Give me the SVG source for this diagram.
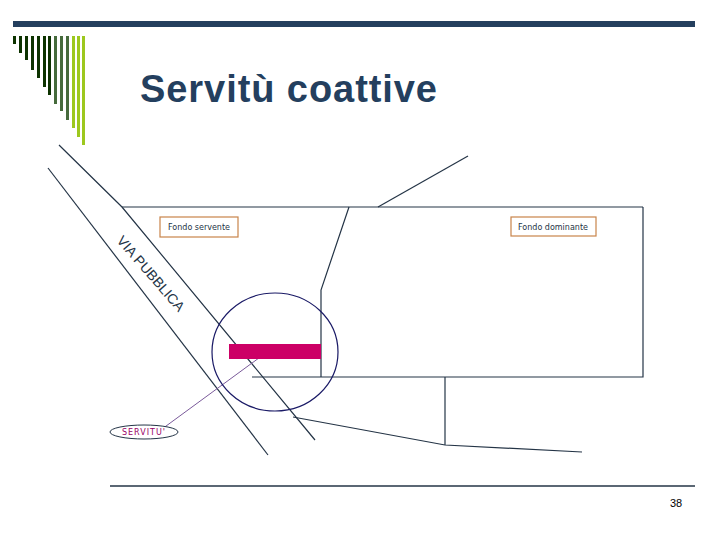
<svg xmlns="http://www.w3.org/2000/svg" width="720" height="540" viewBox="0 0 720 540">
<style>
.l{stroke:#243446;stroke-width:1.2;fill:none}
.lb{fill:#fff;stroke:#c8844a;stroke-width:1.2}
.t{font-family:"DejaVu Sans",sans-serif;font-size:8px;fill:#243446}
</style>
<rect width="720" height="540" fill="#fff"/>
<rect x="13" y="21" width="682" height="6" fill="#243f5e"/>
<g id="bars">
<rect x="13" y="36" width="3" height="8" fill="#0d3300"/>
<rect x="19" y="36" width="3" height="17" fill="#0d3300"/>
<rect x="25" y="36" width="3" height="24" fill="#0d3300"/>
<rect x="31" y="36" width="3" height="34" fill="#0d3300"/>
<rect x="37" y="36" width="3" height="42" fill="#0d3300"/>
<rect x="43" y="36" width="3" height="51" fill="#0d3300"/>
<rect x="48" y="36" width="3" height="59" fill="#0d3300"/>
<rect x="54" y="36" width="3" height="68" fill="#466b3c"/>
<rect x="60" y="36" width="3" height="75" fill="#466b3c"/>
<rect x="66" y="36" width="3" height="84" fill="#466b3c"/>
<rect x="72" y="36" width="3" height="92" fill="#9dc81e"/>
<rect x="77" y="36" width="3" height="101" fill="#9dc81e"/>
<rect x="82" y="36" width="3" height="109" fill="#9dc81e"/>
</g>
<text x="140" y="102" font-family="Liberation Sans,Arial,sans-serif" font-weight="bold" font-size="38" textLength="297" fill="#243f5e">Servitù coattive</text>
<g id="connectors">
<polyline class="l" points="59,145 122,207 315,440"/>
<line class="l" x1="48" y1="168" x2="268" y2="455"/>
<line class="l" x1="122" y1="207" x2="643" y2="207"/>
<polyline class="l" points="643,207 643,377 252,377"/>
<polyline class="l" points="349,207 321,290 321,377"/>
<line class="l" x1="378" y1="207" x2="468" y2="156"/>
<line class="l" x1="445" y1="377" x2="445" y2="445"/>
<polyline class="l" points="293,417 445,445 582,452"/>
<line x1="263" y1="355" x2="162" y2="429" stroke="#7a5a9a" stroke-width="1"/>
</g>
<g id="servitu-area">
<ellipse cx="275" cy="352" rx="63" ry="59" fill="none" stroke="#1a1a66" stroke-width="1.2"/>
<rect x="229" y="344" width="92" height="15" fill="#cc0066"/>
</g>
<g id="servitu">
<ellipse cx="144" cy="432" rx="34" ry="7" fill="#fff" stroke="#243446" stroke-width="1"/>
<text x="144" y="435" text-anchor="middle" font-family="DejaVu Sans,sans-serif" font-size="8" fill="#990066" letter-spacing="1">SERVITU'</text>
</g>
<g id="fondo-servente">
<rect class="lb" x="160" y="217" width="78" height="20"/>
<text class="t" x="199" y="230" text-anchor="middle">Fondo servente</text>
</g>
<g id="fondo-dominante">
<rect class="lb" x="511" y="217" width="85" height="19"/>
<text class="t" x="553" y="230" text-anchor="middle">Fondo dominante</text>
</g>
<text transform="translate(116,241) rotate(49)" font-family="Liberation Sans,Arial,sans-serif" font-size="14" fill="#243446">VIA PUBBLICA</text>
<line x1="110" y1="486" x2="695" y2="486" stroke="#243446" stroke-width="1.5"/>
<text x="670" y="507" font-family="Liberation Sans,Arial,sans-serif" font-size="11" fill="#000">38</text>
</svg>
